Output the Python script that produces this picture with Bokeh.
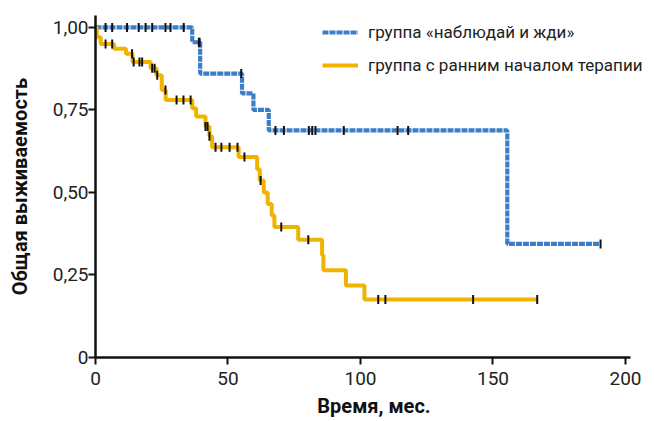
import numpy as np
from bokeh.plotting import figure
from bokeh.models import Range1d, FixedTicker, Legend, LegendItem
from bokeh.embed import file_html
from bokeh.resources import INLINE

# ---- data ----
# watch-and-wait group: event times (months) and survival after each event
wait_times = [36.5, 39.5, 55.3, 59.6, 65.4, 155.4]
wait_surv = [0.955, 0.86, 0.80, 0.75, 0.688, 0.344]
wait_end = 190.6
wait_censor = [3.8, 6.3, 11.9, 16.3, 18.9, 21.4, 26.4, 28.3, 33.3, 39.0, 39.3,
               55.0, 67.9, 71.1, 80.5, 81.8, 83.0, 93.7, 114.0, 118.0, 190.6]

# early-therapy group
early_times = [0.5, 2.0, 7.0, 11.5, 14.0, 20.8, 23.0, 25.0, 26.5, 36.5, 38.0,
               41.5, 43.0, 44.0, 54.0, 61.0, 62.0, 63.5, 65.0, 66.5, 67.5,
               76.5, 85.5, 86.0, 94.5, 101.5]
early_surv = [0.97, 0.95, 0.935, 0.92, 0.895, 0.876, 0.855, 0.81, 0.78, 0.755, 0.73,
              0.70, 0.67, 0.637, 0.607, 0.57, 0.536, 0.50, 0.465, 0.43, 0.395,
              0.357, 0.31, 0.264, 0.218, 0.176]
early_end = 166.7
early_censor = [3.8, 6.3, 13.8, 14.4, 16.6, 17.6, 21.4, 22.3, 23.3, 26.4, 30.6, 33.2,
                35.9, 41.5, 42.3, 43.0, 45.3, 47.5, 50.6, 53.6, 56.2, 62.3, 70.1,
                80.3, 106.7, 109.4, 142.5, 166.7]

x_ticks = [0, 50, 100, 150, 200]
y_ticks = [0, 0.25, 0.5, 0.75, 1.0]
y_tick_labels = ["0", "0,25", "0,50", "0,75", "1,00"]
labels = ["группа «наблюдай и жди»", "группа с ранним началом терапии"]

BLUE = "#3b7dc8"
YELLOW = "#f0b400"
FONT = "Roboto"


def step_arrays(times, surv, end):
    xs = [0.0] + list(times) + [end]
    ys = [1.0] + list(surv) + [surv[-1]]
    return xs, ys


def level_at(times, surv, t):
    t = np.asarray(t)
    idx = np.searchsorted(np.asarray(times), t, side="right")
    lv = np.concatenate([[1.0], surv])
    return lv[idx]


p = figure(width=654, height=421, output_backend="svg", toolbar_location=None,
           x_range=Range1d(0, 210.2), y_range=Range1d(0, 1.036),
           min_border_left=95, min_border_right=2, min_border_top=15, min_border_bottom=64)
p.grid.visible = False
p.outline_line_color = None
p.background_fill_color = "white"

wx, wy = step_arrays(wait_times, wait_surv, wait_end)
ex, ey = step_arrays(early_times, early_surv, early_end)

r_wait = p.step(wx, wy, mode="after", line_color=BLUE, line_width=4.2, line_dash="6 1")
r_early = p.step(ex, ey, mode="after", line_color=YELLOW, line_width=4)

p.scatter(wait_censor, level_at(wait_times, wait_surv, wait_censor), marker="dash",
          angle=np.pi / 2, size=9, line_width=2, line_color="#111111")
p.scatter(early_censor, level_at(early_times, early_surv, early_censor), marker="dash",
          angle=np.pi / 2, size=9, line_width=2, line_color="#111111")

for ax in (p.xaxis[0], p.yaxis[0]):
    ax.axis_line_width = 2.5
    ax.axis_line_color = "#111111"
    ax.major_tick_line_width = 2
    ax.major_tick_line_color = "#111111"
    ax.major_tick_in = 0
    ax.major_tick_out = 7
    ax.minor_tick_line_color = None
    ax.major_label_text_font = FONT
    ax.major_label_text_font_size = "19px"
    ax.major_label_text_color = "#222222"
    ax.axis_label_text_font = FONT
    ax.axis_label_text_font_style = "bold"
    ax.axis_label_text_font_size = "20px"
    ax.axis_label_text_color = "#111111"

p.xaxis.bounds = (0, 202)
p.xaxis.ticker = FixedTicker(ticks=x_ticks)
p.yaxis.ticker = FixedTicker(ticks=y_ticks)
p.yaxis.major_label_overrides = {t: lab for t, lab in zip(y_ticks, y_tick_labels)}
p.xaxis.axis_label = "Время, мес."
p.yaxis.axis_label = "Общая выживаемость"
p.xaxis.major_label_standoff = 7
p.yaxis.major_label_standoff = 0
p.xaxis.axis_label_standoff = 6
p.yaxis.axis_label_standoff = 18

legend = Legend(items=[LegendItem(label=labels[0], renderers=[r_wait]),
                       LegendItem(label=labels[1], renderers=[r_early])],
                location=(227, 282), orientation="vertical")
legend.border_line_color = None
legend.background_fill_alpha = 0
legend.padding = 0
legend.margin = 0
legend.spacing = 13
legend.glyph_width = 36
legend.glyph_height = 20
legend.label_standoff = 10
legend.label_text_font = FONT
legend.label_text_font_size = "17px"
legend.label_text_color = "#222222"
p.add_layout(legend)

open("out.html", "w").write(file_html(p, INLINE))
